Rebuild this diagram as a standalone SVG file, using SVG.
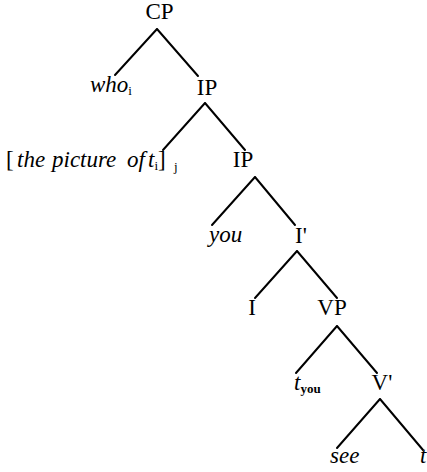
<svg xmlns="http://www.w3.org/2000/svg" width="427" height="472" viewBox="0 0 427 472">
<style>
.t{font-family:"Liberation Serif","Times New Roman",serif;font-size:23px;fill:#000}
.i{font-style:italic}
.s{font-size:13px}
.e{stroke:#000;stroke-width:2;fill:none;stroke-linecap:round}
</style>
<rect width="427" height="472" fill="#fff"/>
<g id="edges">
<path class="e" d="M157 29L115 75M157 29L198 76"/>
<path class="e" d="M205 103L163 150M205 103L245 150"/>
<path class="e" d="M255 177L212 225M255 177L295 225"/>
<path class="e" d="M297 251L255 298M297 251L337 298"/>
<path class="e" d="M337 326L296 373M337 326L377 373"/>
<path class="e" d="M380 399L337 448M380 399L423 450"/>
</g>
<g id="CP"><text class="t" x="159.5" y="19" text-anchor="middle">CP</text></g>
<g id="who"><text class="t" x="90" y="92"><tspan class="i">who</tspan><tspan class="s" dy="3">i</tspan></text></g>
<g id="IP1"><text class="t" x="207" y="95" text-anchor="middle">IP</text></g>
<g id="NP"><text class="t" y="167"><tspan x="6">[</tspan><tspan class="i" x="17">the</tspan><tspan class="i" x="52">picture</tspan><tspan class="i" x="127">of</tspan><tspan class="i" x="148">t</tspan><tspan class="s" dy="3">i</tspan><tspan dy="-3">]</tspan><tspan class="s" x="174" dy="4">j</tspan></text></g>
<g id="IP2"><text class="t" x="243" y="167" text-anchor="middle">IP</text></g>
<g id="you"><text class="t i" x="209" y="242">you</text></g>
<g id="Ibar"><text class="t" x="301" y="243" text-anchor="middle">I'</text></g>
<g id="I"><text class="t" x="252" y="315" text-anchor="middle">I</text></g>
<g id="VP"><text class="t" x="332" y="315" text-anchor="middle">VP</text></g>
<g id="tyou"><text class="t" x="294" y="390"><tspan class="i">t</tspan><tspan class="s" dy="3" font-weight="bold">you</tspan></text></g>
<g id="Vbar"><text class="t" x="382" y="390" text-anchor="middle">V'</text></g>
<g id="see"><text class="t i" x="330" y="463">see</text></g>
<g id="t"><text class="t i" x="420" y="463">t</text></g>
</svg>
